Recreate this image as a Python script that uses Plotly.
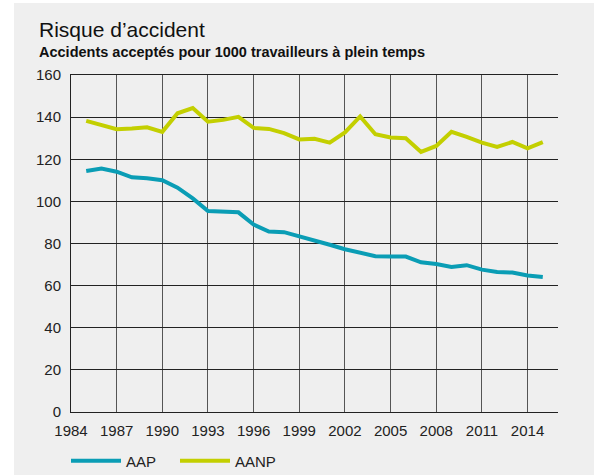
import plotly.graph_objects as go

# Accidents acceptés pour 1000 travailleurs à plein temps
years = list(range(1985, 2016))
aap = [114.4, 115.6, 114.1, 111.4, 111.0, 110.0, 106.5, 101.4, 95.4, 95.1,
       94.8, 89.0, 85.7, 85.4, 83.5, 81.6, 79.4, 77.3, 75.7, 74.0,
       73.8, 73.8, 71.1, 70.3, 68.9, 69.7, 67.6, 66.5, 66.2, 64.8, 64.1]
aanp = [138.2, 136.3, 134.3, 134.6, 135.2, 133.0, 141.8, 144.3, 137.8, 138.7,
        140.1, 134.9, 134.4, 132.4, 129.4, 129.7, 127.9, 132.7, 140.3, 131.9,
        130.3, 130.0, 123.5, 126.3, 133.0, 130.6, 127.9, 125.9, 128.2, 125.2, 128.1]
x_ticks = list(range(1984, 2015, 3))
y_ticks = list(range(0, 161, 20))

blue = '#0a9db5'
green = '#c3cf00'
panel = '#efefef'
font = 'Liberation Sans, Arial, sans-serif'

fig = go.Figure()
fig.add_trace(go.Scatter(x=years, y=aap, mode='lines', name='AAP',
                         line=dict(color=blue, width=4)))
fig.add_trace(go.Scatter(x=years, y=aanp, mode='lines', name='AANP',
                         line=dict(color=green, width=4)))

# plot area in pixels: left 71, right 558, top 75, bottom 412
L, R, T, B = 71, 36, 75, 63
pw, ph = 594 - L - R, 475 - T - B


def px(x):
    return (x - L) / pw


def py(y):
    return (475 - B - y) / ph


fig.update_layout(
    width=594, height=475,
    margin=dict(l=L, r=R, t=T, b=B, autoexpand=False),
    paper_bgcolor='white', plot_bgcolor=panel,
    font=dict(family=font, size=15, color='#222222'),
    xaxis=dict(range=[1984, 2016], tickvals=x_ticks, showgrid=True,
               gridcolor='#555555', gridwidth=1, zeroline=False,
               showline=True, mirror=True, linecolor='#222222', linewidth=1,
               ticks='outside', ticklen=5, tickcolor='rgba(0,0,0,0)'),
    yaxis=dict(range=[0, 160], tickvals=y_ticks, showgrid=True,
               gridcolor='#222222', gridwidth=1, zeroline=False,
               showline=True, linecolor='#222222', linewidth=1,
               ticks='outside', ticklen=6, tickcolor='rgba(0,0,0,0)'),
    legend=dict(orientation='h', x=px(66), y=py(461), xanchor='left',
                yanchor='middle', bgcolor='rgba(0,0,0,0)',
                font=dict(size=15, color='#222222'), itemwidth=50,
                entrywidth=44, entrywidthmode='pixels',
                traceorder='normal'),
    shapes=[dict(type='rect', xref='paper', yref='paper', layer='below',
                 x0=px(14), x1=px(600), y0=py(480), y1=py(3),
                 fillcolor=panel, line=dict(width=0))],
    annotations=[
        dict(text='Risque d’accident', xref='paper', yref='paper',
             x=px(37), y=py(29.5), xanchor='left', yanchor='middle',
             showarrow=False, font=dict(size=21, color='#111111')),
        dict(text='<b>Accidents acceptés pour 1000 travailleurs à plein temps</b>',
             xref='paper', yref='paper', x=px(37), y=py(51.5),
             xanchor='left', yanchor='middle', showarrow=False,
             font=dict(size=14.5, color='#111111')),
    ],
)

# the page's default body margin would shift the chart by 8 px
fig.write_html('out.html', config={'displayModeBar': False},
               post_script="document.body.style.margin='0';")
